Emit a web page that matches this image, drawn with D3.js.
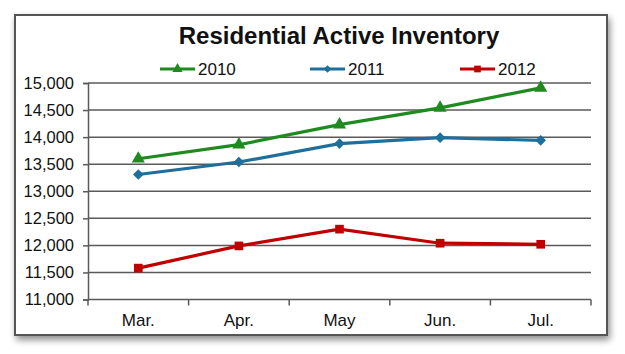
<!DOCTYPE html>
<html lang="en">
<head>
    <meta charset="UTF-8">
    <title>Residential Active Inventory</title>
    <script src="https://cdn.jsdelivr.net/npm/d3@7"></script>
    <style>
        body { margin: 0; background: #fff; }
        text { font-family: 'Liberation Sans', Arial, sans-serif; fill: #111; }
    </style>
</head>
<body>
<script>
    const months = ["Mar.", "Apr.", "May", "Jun.", "Jul."];
    const years = ["2010", "2011", "2012"];
    const inv2010 = [13600, 13860, 14230, 14540, 14910];
    const inv2011 = [13310, 13540, 13880, 13990, 13940];
    const inv2012 = [11580, 11990, 12300, 12040, 12020];
    const yTicks = [11000, 11500, 12000, 12500, 13000, 13500, 14000, 14500, 15000];

    // rot: rotate the square so it reads as a diamond like Excel's marker
    const series = [
        {name: years[0], values: inv2010, color: "#1f8a1f", shape: d3.symbolTriangle, size: 75, lsize: 45, rot: 0},
        {name: years[1], values: inv2011, color: "#1e6f9c", shape: d3.symbolSquare, size: 56, lsize: 30, rot: 45},
        {name: years[2], values: inv2012, color: "#c00000", shape: d3.symbolSquare, size: 75, lsize: 45, rot: 0}
    ];

    const svg = d3.select("body").append("svg").attr("width", 625).attr("height", 354);

    // drop shadow for the frame
    const defs = svg.append("defs");
    const f = defs.append("filter").attr("id", "shadow").attr("x", "-5%").attr("y", "-5%").attr("width", "110%").attr("height", "115%");
    f.append("feGaussianBlur").attr("in", "SourceAlpha").attr("stdDeviation", 3.5);
    f.append("feOffset").attr("dx", 2).attr("dy", 4).attr("result", "b");
    f.append("feComponentTransfer").append("feFuncA").attr("type", "linear").attr("slope", 0.45);
    const m = f.append("feMerge");
    m.append("feMergeNode");
    m.append("feMergeNode").attr("in", "SourceGraphic");

    svg.append("rect")
        .attr("x", 15).attr("y", 15).attr("width", 592).attr("height", 320)
        .attr("fill", "#fff").attr("stroke", "#555").attr("stroke-width", 2)
        .attr("filter", "url(#shadow)");

    const x = d3.scalePoint().domain(months).range([88, 591]).padding(0.5);
    const y = d3.scaleLinear().domain([11000, 15000]).range([299.5, 83]);

    // gridlines
    svg.append("g").selectAll("line").data(yTicks.slice(1)).join("line")
        .attr("x1", 88).attr("x2", 591)
        .attr("y1", d => y(d)).attr("y2", d => y(d))
        .attr("stroke", "#5a5a5a").attr("stroke-width", 1.5);

    const yAxis = svg.append("g").attr("transform", "translate(88,0)")
        .call(d3.axisLeft(y).tickValues(yTicks).tickFormat(d3.format(",")).tickSize(5).tickPadding(9));
    yAxis.select(".domain").attr("stroke", "#5a5a5a").attr("stroke-width", 1.5);
    yAxis.selectAll(".tick line").attr("stroke", "#5a5a5a").attr("stroke-width", 1.5);
    yAxis.selectAll("text").style("font-size", "16.5px").style("font-family", "'Liberation Sans', Arial, sans-serif").attr("fill", "#111");

    // x axis with ticks between categories
    const xAxisG = svg.append("g").attr("transform", `translate(0,${y(11000)})`);
    xAxisG.append("line").attr("x1", 88).attr("x2", 591).attr("stroke", "#5a5a5a").attr("stroke-width", 1.5);
    const step = x.step();
    xAxisG.selectAll("line.tk").data(d3.range(months.length + 1)).join("line").attr("class", "tk")
        .attr("x1", i => 88 + i * step).attr("x2", i => 88 + i * step)
        .attr("y1", 0).attr("y2", 6)
        .attr("stroke", "#5a5a5a").attr("stroke-width", 1.5);
    xAxisG.selectAll("text").data(months).join("text")
        .attr("x", d => x(d)).attr("y", 26)
        .attr("text-anchor", "middle").style("font-size", "17px")
        .text(d => d);

    const line = d3.line().x((d, i) => x(months[i])).y(d => y(d));

    const sg = svg.append("g").selectAll("g").data(series).join("g");
    sg.append("path")
        .attr("d", d => line(d.values))
        .attr("fill", "none").attr("stroke", d => d.color).attr("stroke-width", 3.2);
    sg.each(function(s) {
        d3.select(this).selectAll("path.mk").data(s.values).join("path").attr("class", "mk")
            .attr("transform", (d, i) => `translate(${x(months[i])},${y(d)}) rotate(${s.rot})`)
            .attr("d", d3.symbol(s.shape, s.size))
            .attr("fill", s.color);
    });

    // title
    svg.append("text").attr("x", 339).attr("y", 44)
        .attr("text-anchor", "middle")
        .style("font-size", "24px").style("font-weight", "bold")
        .text("Residential Active Inventory");

    // legend
    const legendX = [160, 310, 460];
    const lg = svg.append("g").selectAll("g").data(series).join("g")
        .attr("transform", (d, i) => `translate(${legendX[i]},69)`);
    lg.append("line").attr("x1", 0).attr("x2", 35)
        .attr("stroke", d => d.color).attr("stroke-width", 3.2);
    lg.append("path").attr("transform", d => `translate(17.5,0) rotate(${d.rot})`)
        .attr("d", d => d3.symbol(d.shape, d.lsize)())
        .attr("fill", d => d.color);
    lg.append("text").attr("x", 38).attr("y", 6)
        .style("font-size", "17px")
        .text(d => d.name);
</script>
</body>
</html>
